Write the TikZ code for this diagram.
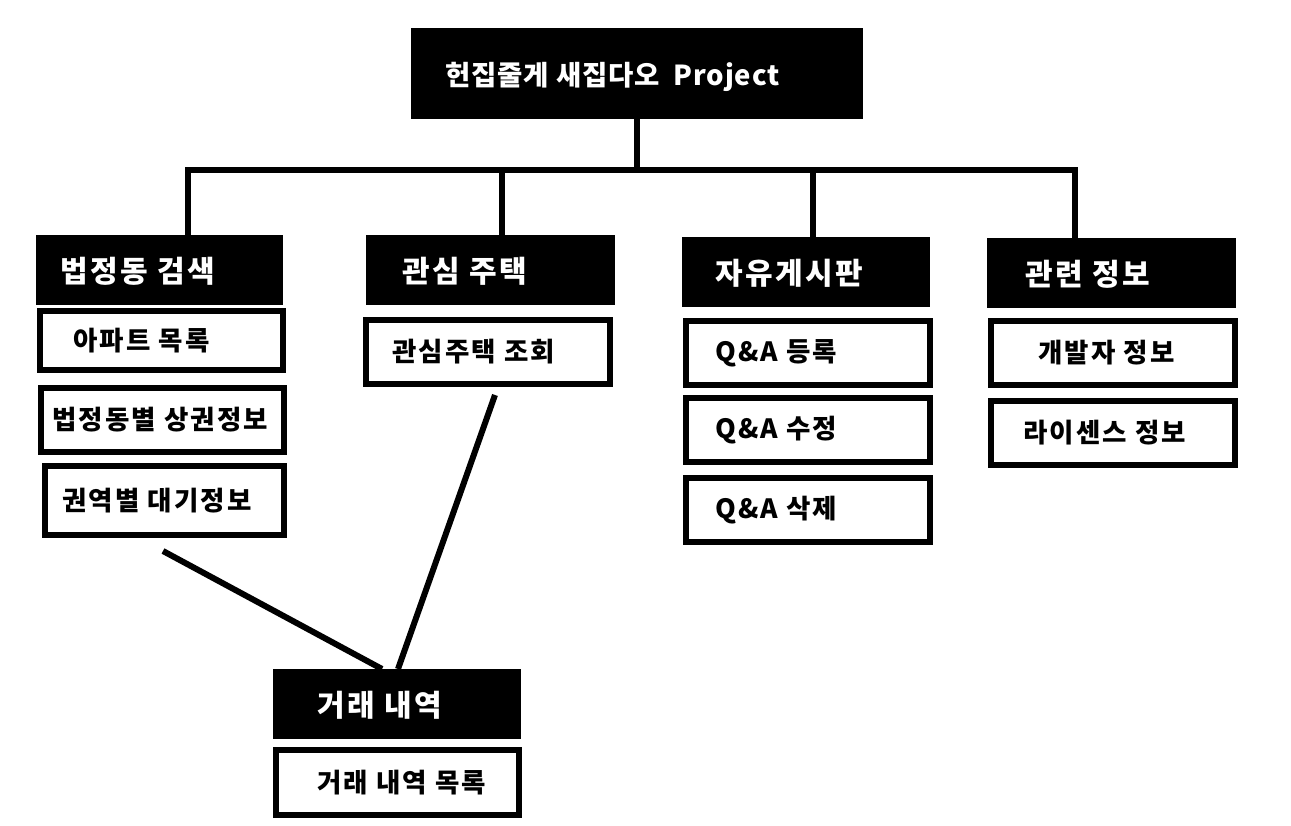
\documentclass[tikz,border=0pt]{standalone}
\usepackage{fontspec}
\setmainfont{Noto Sans CJK KR}
\newfontfamily\krtop{Noto Sans CJK KR}[LetterSpace=3]
\newfontfamily\krhead{Noto Sans CJK KR}[LetterSpace=8]
\newfontfamily\krsub{Noto Sans CJK KR}[LetterSpace=8]
\begin{document}
\begin{tikzpicture}[x=1pt,y=-1pt,
  conn/.style={line width=6pt, line join=miter},
  headbox/.style={fill=black, draw=none, inner sep=0pt, outer sep=0pt},
  subbox/.style={draw=black, fill=white, line width=6pt, inner sep=0pt, outer sep=0pt},
  headtxt/.style={anchor=west, text=white, font=\krhead\bfseries\fontsize{30}{33}\selectfont, inner sep=0pt},
  toptxt/.style={anchor=west, text=white, font=\krtop\bfseries\fontsize{27.5}{30}\selectfont, inner sep=0pt},
  subtxt/.style={anchor=west, text=black, font=\krsub\bfseries\fontsize{26.5}{29}\selectfont, inner sep=0pt}]
\useasboundingbox[fill=white] (0,0) rectangle (1291,826);

% top
\node[headbox, minimum width=452pt, minimum height=91pt] (top) at (637,73.5) {};
\node[toptxt] (ttop) at (445,77) {헌집줄게 새집다오\ \ Project};

% column 1
\node[headbox, minimum width=247pt, minimum height=70pt] (b1) at (159.5,270) {};
\node[headtxt] (tb1) at (60,271) {법정동 검색};
\node[subbox, minimum width=243pt, minimum height=59pt] (b1a) at (161.5,340.5) {};
\node[subtxt] (tb1a) at (73,341) {아파트 목록};
\node[subbox, minimum width=243pt, minimum height=64pt] (b1b) at (162.5,420) {};
\node[subtxt] (tb1b) at (52,420) {법정동별 상권정보};
\node[subbox, minimum width=239pt, minimum height=69pt] (b1c) at (164.5,500.5) {};
\node[subtxt] (tb1c) at (62,501) {권역별 대기정보};

% column 2
\node[headbox, minimum width=249pt, minimum height=70pt] (b2) at (490.5,270) {};
\node[headtxt] (tb2) at (402,271) {관심 주택};
\node[subbox, minimum width=244pt, minimum height=64pt] (b2a) at (488,352) {};
\node[subtxt] (tb2a) at (392,352) {관심주택 조회};

% column 3
\node[headbox, minimum width=248pt, minimum height=70pt] (b3) at (806,272) {};
\node[headtxt] (tb3) at (715,273) {자유게시판};
\node[subbox, minimum width=244pt, minimum height=64pt] (b3a) at (808,353) {};
\node[subtxt] (tb3a) at (715,353) {Q\&A 등록};
\node[subbox, minimum width=244pt, minimum height=64pt] (b3b) at (808,430) {};
\node[subtxt] (tb3b) at (715,430) {Q\&A 수정};
\node[subbox, minimum width=244pt, minimum height=64pt] (b3c) at (808,510) {};
\node[subtxt] (tb3c) at (715,510) {Q\&A 삭제};

% column 4
\node[headbox, minimum width=249pt, minimum height=70pt] (b4) at (1111.5,273) {};
\node[headtxt] (tb4) at (1025,274) {관련 정보};
\node[subbox, minimum width=244pt, minimum height=64pt] (b4a) at (1113,353) {};
\node[subtxt] (tb4a) at (1038,353) {개발자 정보};
\node[subbox, minimum width=244pt, minimum height=64pt] (b4b) at (1113,433) {};
\node[subtxt] (tb4b) at (1023,433) {라이센스 정보};

% bottom
\node[headbox, minimum width=248pt, minimum height=70pt] (b5) at (397,704) {};
\node[headtxt] (tb5) at (317,705) {거래 내역};
\node[subbox, minimum width=243pt, minimum height=65pt] (b5a) at (397.5,782.5) {};
\node[subtxt] (tb5a) at (317,783) {거래 내역 목록};

% connectors
\coordinate (jt) at (637,170);
\coordinate (d1) at (188,170);
\coordinate (d2) at (502,170);
\coordinate (d3) at (813,170);
\coordinate (d4) at (1075,170);
\draw[conn] (top.south -| jt) -- (jt);
\draw[conn] (d1 |- b1.north) -- (d1) -- (d4) -- (d4 |- b4.north);
\draw[conn] (d2) -- (d2 |- b2.north);
\draw[conn] (d3) -- (d3 |- b3.north);

\coordinate (e1) at (163,551);
\coordinate (f1) at (382,669);
\coordinate (e2) at (495,395);
\coordinate (f2) at (398,669);
\draw[conn] (e1) -- (f1 |- b5.north);
\draw[conn] (e2) -- (f2 |- b5.north);
\end{tikzpicture}
\end{document}
